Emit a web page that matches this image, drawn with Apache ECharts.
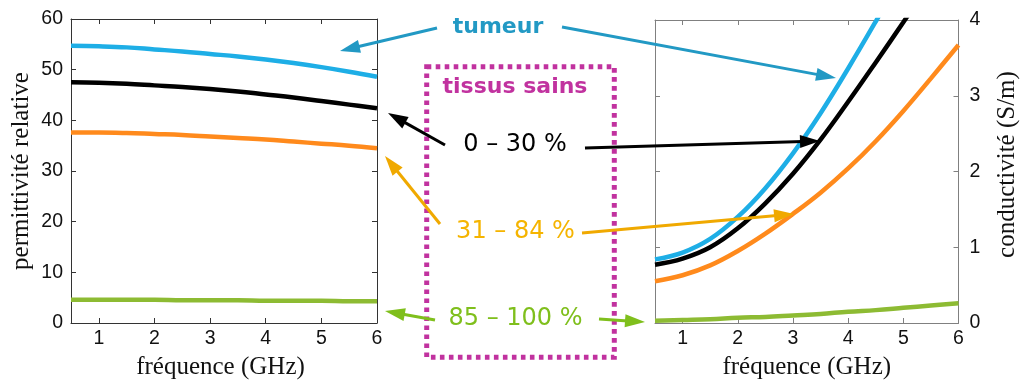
<!DOCTYPE html>
<html>
<head>
<meta charset="utf-8">
<script src="https://cdn.jsdelivr.net/npm/echarts@6/dist/echarts.min.js"></script>
<style>
  html, body { margin: 0; padding: 0; background: #ffffff; }
  #chart { width: 1021px; height: 385px; }
</style>
</head>
<body>
<div id="chart"></div>
<script>
// Frequency samples (GHz)
const freqGHz = [0.5, 1, 1.5, 2, 2.5, 3, 3.5, 4, 4.5, 5, 5.5, 6];

// Relative permittivity
const permTumeur = [54.7, 54.6, 54.4, 54.0, 53.6, 53.1, 52.6, 52.0, 51.3, 50.5, 49.6, 48.6];
const perm0to30 = [47.5, 47.4, 47.2, 46.9, 46.6, 46.2, 45.7, 45.1, 44.5, 43.8, 43.1, 42.4];
const perm31to84 = [37.6, 37.6, 37.5, 37.3, 37.1, 36.8, 36.5, 36.2, 35.8, 35.4, 35.0, 34.5];
const perm85to100 = [4.6, 4.6, 4.6, 4.6, 4.5, 4.5, 4.5, 4.4, 4.4, 4.4, 4.3, 4.3];

// Conductivity (S/m); the steepest curves run past the top of the axis and are clipped
const condTumeur = [0.84, 0.93, 1.11, 1.40, 1.78, 2.24, 2.77, 3.36, 3.98, 4.62];
const cond0to30 = [0.77, 0.85, 1.00, 1.25, 1.58, 1.97, 2.42, 2.92, 3.44, 3.97, 4.51];
const cond31to84 = [0.55, 0.63, 0.76, 0.95, 1.18, 1.44, 1.72, 2.04, 2.40, 2.80, 3.23, 3.67];
const cond85to100 = [0.03, 0.04, 0.05, 0.07, 0.08, 0.10, 0.12, 0.15, 0.17, 0.20, 0.23, 0.26];

// Tick values
const freqTicks = [1, 2, 3, 4, 5, 6];
const permTicks = [0, 10, 20, 30, 40, 50, 60];
const condTicks = [0, 1, 2, 3, 4];

// Annotation texts
const labelTumeur = 'tumeur';
const labelSains = 'tissus sains';
const labelLow = '0 – 30 %';
const labelMid = '31 – 84 %';
const labelHigh = '85 – 100 %';

const COLORS = {
  tumeur: '#1eaee6',
  low: '#000000',
  mid: '#ff8a1c',
  high: '#8dbb33'
};

const pairs = (vals) => vals.map((v, i) => [freqGHz[i], v]);

const tickFont = { fontFamily: 'Liberation Sans', fontSize: 19.5, color: '#111111' };
const nameFont = { fontFamily: 'Liberation Serif', fontSize: 25, color: '#111111' };

function xAxisPair(grid, color, withName, namePad) {
  const common = {
    gridIndex: grid, type: 'value', min: 0.5, max: 6,
    splitLine: { show: false },
    axisLine: { show: true, onZero: false, lineStyle: { color: color, width: 1 } },
    axisTick: { show: true, inside: true, length: 5, customValues: freqTicks, lineStyle: { color: color } }
  };
  return [
    Object.assign({}, common, {
      position: 'bottom',
      axisLabel: Object.assign({ customValues: freqTicks, margin: 6 }, tickFont),
      name: withName, nameLocation: 'middle', nameGap: 32,
      nameTextStyle: Object.assign({ padding: namePad }, nameFont)
    }),
    Object.assign({}, common, { position: 'top', axisLabel: { show: false } })
  ];
}

function yAxisPair(grid, color, ticks, labelSide, name, gap, namePad, margin) {
  const other = labelSide === 'left' ? 'right' : 'left';
  const common = {
    gridIndex: grid, type: 'value',
    min: ticks[0], max: ticks[ticks.length - 1], interval: ticks[1] - ticks[0],
    splitLine: { show: false },
    axisLine: { show: true, onZero: false, lineStyle: { color: color, width: 1 } },
    axisTick: { show: true, inside: true, length: 5, lineStyle: { color: color } }
  };
  return [
    Object.assign({}, common, {
      position: labelSide,
      axisLabel: Object.assign({ margin: margin }, tickFont),
      name: name, nameLocation: 'middle', nameRotate: 90, nameGap: gap,
      nameTextStyle: Object.assign({ padding: namePad }, nameFont)
    }),
    Object.assign({}, common, { position: other, axisLabel: { show: false } })
  ];
}

function curve(name, xi, yi, data, color) {
  return {
    name: name, type: 'line', xAxisIndex: xi, yAxisIndex: yi,
    data: pairs(data), smooth: 0.4, showSymbol: false, clip: true,
    lineStyle: { color: color, width: 4.5 }, itemStyle: { color: color },
    silent: true
  };
}

// Straight arrow with a filled triangular head at (x2, y2)
function arrow(x1, y1, x2, y2, color) {
  const dx = x2 - x1, dy = y2 - y1, L = Math.hypot(dx, dy);
  const ux = dx / L, uy = dy / L;
  const hl = 20, hw = 6.5;
  const bx = x2 - ux * hl, by = y2 - uy * hl;
  return [
    { type: 'line', z: 50, shape: { x1: x1, y1: y1, x2: bx + ux * 3, y2: by + uy * 3 },
      style: { stroke: color, lineWidth: 3 } },
    { type: 'polygon', z: 50,
      shape: { points: [[x2, y2], [bx - uy * hw, by + ux * hw], [bx + uy * hw, by - ux * hw]] },
      style: { fill: color } }
  ];
}

function note(text, x, y, color, size, weight) {
  return {
    type: 'text', z: 60, x: x, y: y,
    style: {
      text: text, fill: color, fontFamily: 'DejaVu Sans', fontSize: size, fontWeight: weight,
      align: 'center', verticalAlign: 'middle'
    }
  };
}

const arrowBlue = '#2299c4';
const arrowGold = '#f0a900';
const arrowGreen = '#7fbf1c';

const graphics = [].concat(
  [{
    type: 'rect', z: 40,
    shape: { x: 426.7, y: 66.7, width: 187.6, height: 290.6 },
    style: { fill: null, stroke: '#c1329f', lineWidth: 5, lineDash: [4.6, 4.4] }
  }],
  arrow(437, 28, 340, 51, arrowBlue),
  arrow(562, 27, 836, 78, arrowBlue),
  arrow(445, 145, 388, 113, '#000000'),
  arrow(585, 148, 820, 141, '#000000'),
  arrow(440, 224, 385, 156, arrowGold),
  arrow(582, 233, 794, 214, arrowGold),
  arrow(435, 320, 385, 311, arrowGreen),
  arrow(599, 319, 645, 322, arrowGreen),
  [
    note(labelTumeur, 498, 27, '#2299c4', 22, 'bold'),
    note(labelSains, 515, 87, '#c1329f', 22, 'bold'),
    note(labelLow, 515, 145, '#000000', 24, 'normal'),
    note(labelMid, 515.5, 232, '#f5b400', 24, 'normal'),
    note(labelHigh, 515.5, 318.5, '#7fbf1c', 24, 'normal')
  ]
);

const option = {
  animation: false,
  backgroundColor: '#ffffff',
  grid: [
    { left: 71, top: 19, width: 306, height: 305.5, containLabel: false },
    { left: 655, top: 20, width: 306, height: 307, containLabel: false }
  ],
  xAxis: [].concat(
    xAxisPair(0, '#333333', 'fréquence (GHz)', [0, 7, 0, 0]),
    xAxisPair(1, '#808080', 'fréquence (GHz)', [0, 0, 0, 0])
  ),
  yAxis: [].concat(
    yAxisPair(0, '#333333', permTicks, 'left', 'permittivité relative', 37.5, [0, 0, 0, 0], 8),
    yAxisPair(1, '#808080', condTicks, 'right', 'conductivité (S/m)', 36.5, [0, 0, 0, 14], 11)
  ),
  series: [
    curve('tumeur', 0, 0, permTumeur, COLORS.tumeur),
    curve('0 – 30 %', 0, 0, perm0to30, COLORS.low),
    curve('31 – 84 %', 0, 0, perm31to84, COLORS.mid),
    curve('85 – 100 %', 0, 0, perm85to100, COLORS.high),
    curve('tumeur', 2, 2, condTumeur, COLORS.tumeur),
    curve('0 – 30 %', 2, 2, cond0to30, COLORS.low),
    curve('31 – 84 %', 2, 2, cond31to84, COLORS.mid),
    curve('85 – 100 %', 2, 2, cond85to100, COLORS.high)
  ],
  graphic: graphics
};

const chart = echarts.init(document.getElementById('chart'), null, { renderer: 'canvas' });
chart.setOption(option);
</script>
</body>
</html>
